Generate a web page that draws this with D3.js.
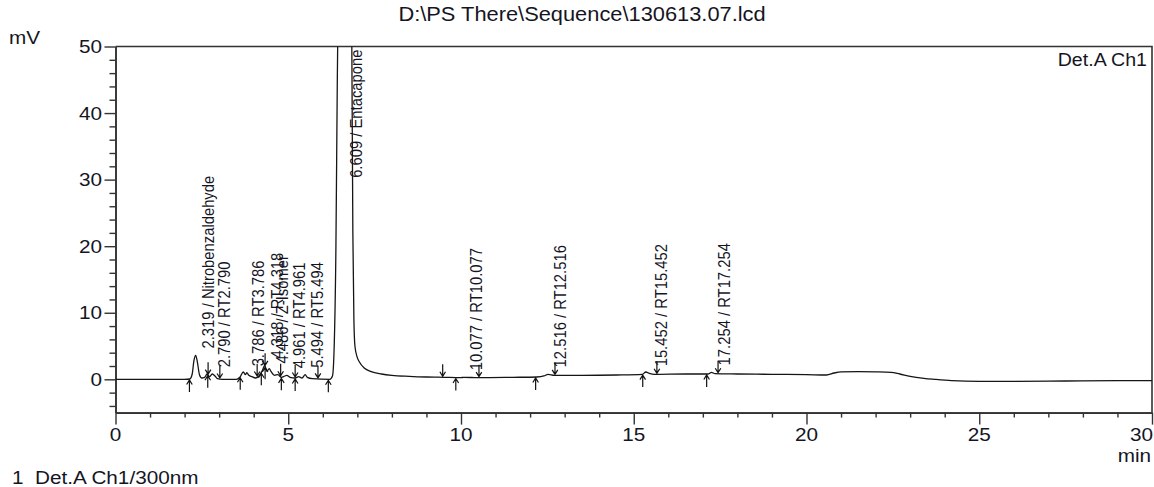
<!DOCTYPE html>
<html><head><meta charset="utf-8">
<script src="https://cdn.jsdelivr.net/npm/d3@7"></script>
<style>
body{margin:0;background:#fff;}
svg{display:block;}
text{font-family:"Liberation Sans",Arial,sans-serif;fill:#15151f;white-space:pre;}
</style></head><body>
<svg id="c" width="1154" height="487"></svg>
<script>
// ---- data ----
const times  = [0, 2.0, 2.15, 2.22, 2.27, 2.32, 2.37, 2.43, 2.5, 2.58, 2.65, 2.72, 2.8, 2.88, 2.95, 3.1, 3.5, 3.6, 3.7, 3.76, 3.8, 3.86, 3.95, 4.05, 4.15, 4.25, 4.32, 4.38, 4.45, 4.5, 4.6, 4.7, 4.8, 4.9, 4.96, 5.05, 5.2, 5.3, 5.4, 5.49, 5.55, 5.7, 6.2, 6.28, 6.33, 6.38, 6.42, 6.45, 6.5, 6.61, 6.72, 6.8, 6.84, 6.87, 6.9, 6.93, 6.99, 7.06, 7.2, 7.4, 7.7, 8.0, 8.5, 9.0, 9.5, 10.0, 10.077, 10.5, 11.5, 12.2, 12.4, 12.52, 12.7, 13.5, 14.5, 15.25, 15.35, 15.45, 15.6, 16.5, 17.15, 17.25, 17.35, 18.0, 19.0, 20.0, 20.58, 20.8, 21.0, 21.5, 22.0, 22.45, 22.7, 23.0, 23.4, 23.7, 24.2, 25.0, 26.0, 27.5, 29.0, 30];
const signal = [0, 0, 0.05, 0.8, 2.8, 3.6, 2.6, 0.7, 0.2, 0.3, 0.8, 0.4, 0.8, 0.5, 0.1, 0, 0, 0.3, 1.1, 0.7, 1.0, 0.6, 0.4, 0.2, 0.5, 1.3, 2.1, 1.2, 1.6, 1.2, 0.6, 0.7, 0.3, 0.5, 0.6, 0.3, 0.2, 0.4, 0.2, 0.7, 0.3, 0.1, 0, 0.5, 5, 20, 45, 60, 100, 160, 110, 70, 50, 22, 9, 5, 3.4, 2.6, 1.7, 1.15, 0.8, 0.6, 0.45, 0.35, 0.3, 0.25, 0.3, 0.25, 0.3, 0.35, 0.5, 0.75, 0.6, 0.6, 0.65, 0.75, 1.1, 0.9, 0.75, 0.8, 0.8, 1.05, 0.85, 0.8, 0.75, 0.7, 0.65, 0.95, 1.12, 1.15, 1.12, 1.05, 0.8, 0.45, 0.15, 0.0, -0.2, -0.3, -0.3, -0.25, -0.2, -0.2];

const peakTimes  = [2.319, 2.790, 3.786, 4.318, 4.486, 4.961, 5.494, 6.609, 10.077, 12.516, 15.452, 17.254];
const peakNames  = ["Nitrobenzaldehyde", "RT2.790", "RT3.786", "RT4.318", "Z-Isomer", "RT4.961", "RT5.494", "Entacapone", "RT10.077", "RT12.516", "RT15.452", "RT17.254"];
const peakStarts = [2.14, 2.67, 3.61, 4.22, 4.33, 4.80, 5.20, 6.16, 9.85, 12.16, 15.26, 17.11];
const peakEnds   = [2.68, 3.02, 4.10, 4.33, 4.78, 5.20, 5.86, 9.47, 10.52, 12.72, 15.67, 17.44];

const xMajorTicks = [0, 5, 10, 15, 20, 25, 30];
const yMajorTicks = [0, 10, 20, 30, 40, 50];

const titleText  = "D:\\PS There\\Sequence\\130613.07.lcd";
const yUnit      = "mV";
const xUnit      = "min";
const channelTag = "Det.A Ch1";
const legendText = "1\u00a0\u00a0Det.A Ch1/300nm";

// ---- layout ----
const L = 115.5, R = 1152, T = 46.5;
const svg = d3.select("#c");
const x = d3.scaleLinear().domain([0, 30]).range([L, R]);
const y = d3.scaleLinear().domain([-5, 50]).range([412.6, T]);
const B = y(-5);
const SX = 1.12; // horizontal stretch of the reference's lettering

function hText(str, px, py, size, anchor) {
  return svg.append("text")
    .attr("transform", `translate(${px},${py}) scale(${SX},1)`)
    .attr("font-size", size)
    .attr("text-anchor", anchor || "start")
    .text(str);
}

// clip
svg.append("defs").append("clipPath").attr("id", "plot")
  .append("rect").attr("x", L).attr("y", T).attr("width", R - L).attr("height", B - T);

// frame (top & right)
svg.append("path")
  .attr("d", `M${L},${T}H${R}V${B}`)
  .attr("fill", "none").attr("stroke", "#333").attr("stroke-width", 1.6);

// axes
const axisStyle = g => {
  g.select(".domain").attr("stroke", "#333").attr("stroke-width", 1.6);
  g.selectAll(".tick line").attr("stroke", "#333").attr("stroke-width", 1.4);
  g.selectAll("text").remove();
};
const yMinor = d3.range(-4, 50, 2).filter(v => v % 10 !== 0);
svg.append("g").attr("transform", `translate(${L},0)`)
  .call(d3.axisLeft(y).tickValues(yMinor).tickSize(6).tickSizeOuter(0)).call(axisStyle);
svg.append("g").attr("transform", `translate(${L},0)`)
  .call(d3.axisLeft(y).tickValues(yMajorTicks).tickSize(11).tickSizeOuter(0)).call(axisStyle);
const xMinor = d3.range(1, 30, 1).filter(v => v % 5 !== 0);
svg.append("g").attr("transform", `translate(0,${B})`)
  .call(d3.axisBottom(x).tickValues(xMinor).tickSize(5).tickSizeOuter(0)).call(axisStyle);
svg.append("g").attr("transform", `translate(0,${B})`)
  .call(d3.axisBottom(x).tickValues(xMajorTicks).tickSize(12).tickSizeOuter(0)).call(axisStyle);

// tick labels
yMajorTicks.forEach(v => hText(String(v), 102, y(v) + 6.5, 18.5, "end"));
xMajorTicks.forEach((v, i) => {
  const last = i === xMajorTicks.length - 1;
  hText(String(v), last ? x(v) + 1 : x(v), 441, 18.5, last ? "end" : "middle");
});

// texts
hText(titleText, 582, 21, 19.5, "middle");
hText(yUnit, 9, 44, 18.5, "start");
hText(channelTag, 1147, 66, 17.5, "end");
hText(xUnit, 1151, 462, 18.5, "end");
hText(legendText, 12, 484, 18.5, "start");

// trace
const pts = times.map((t, i) => [t, signal[i]]);
const line = d3.line().x(d => x(d[0])).y(d => y(d[1])).curve(d3.curveMonotoneX);
svg.append("path").datum(pts)
  .attr("clip-path", "url(#plot)")
  .attr("d", line)
  .attr("fill", "none").attr("stroke", "#151515").attr("stroke-width", 1.3);

const bis = d3.bisector(d => d[0]).left;
function valAt(t) {
  const i = Math.max(1, Math.min(pts.length - 1, bis(pts, t)));
  const a = pts[i - 1], b = pts[i];
  return a[1] + (b[1] - a[1]) * (t - a[0]) / (b[0] - a[0]);
}

// peak start (up) and end (down) arrows
const arr = svg.append("g").attr("fill", "none").attr("stroke", "#111").attr("stroke-width", 1.2);
peakStarts.forEach(t => {
  const px = x(t), py = y(Math.min(valAt(t), 50)) + 1;
  arr.append("path").attr("d", `M${px},${py + 12}V${py}M${px - 2.8},${py + 4.5}L${px},${py}L${px + 2.8},${py + 4.5}`);
});
peakEnds.forEach(t => {
  const px = x(t), py = y(Math.min(valAt(t), 50)) - 1;
  arr.append("path").attr("d", `M${px},${py - 12}V${py}M${px - 2.8},${py - 4.5}L${px},${py}L${px + 2.8},${py - 4.5}`);
});

// peak labels
peakTimes.forEach((t, i) => {
  const px = x(t) + 18;
  let py = y(Math.min(valAt(t), 50)) - 7;
  const tx = svg.append("text")
    .attr("font-size", 14.8)
    .text(`${t.toFixed(3)} / ${peakNames[i]}`);
  const len = tx.node().getComputedTextLength();
  if (py - len < T + 3) py = T + 3 + len;
  tx.attr("transform", `translate(${px},${py}) scale(${SX},1) rotate(-90)`);
});
</script>
</body></html>
